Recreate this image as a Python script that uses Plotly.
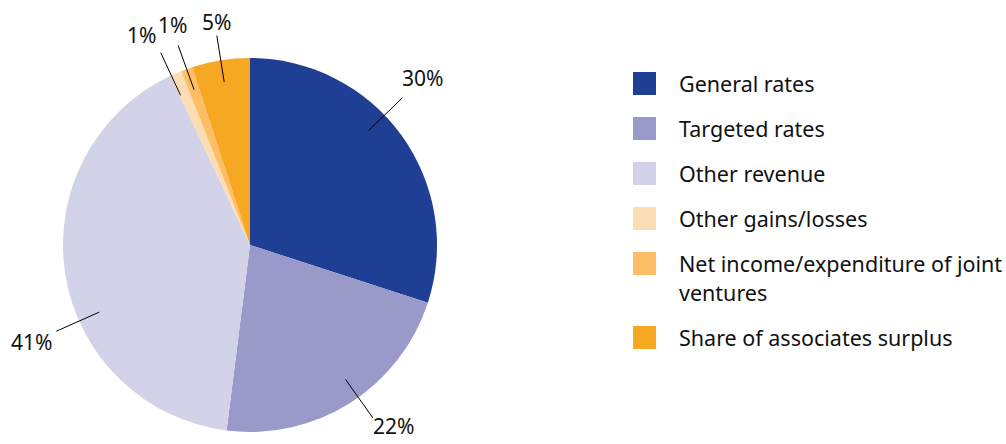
import math
import plotly.graph_objects as go

# ---- data ----
categories = ["General rates", "Targeted rates", "Other revenue",
              "Other gains/losses", "Net income/expenditure of joint ventures",
              "Share of associates surplus"]
legend_text = ["General rates", "Targeted rates", "Other revenue",
               "Other gains/losses", "Net income/expenditure of joint<br>ventures",
               "Share of associates surplus"]
values = [30, 22, 41, 1, 1, 5]
pct_labels = ["30%", "22%", "41%", "1%", "1%", "5%"]
colors = ["#1F3F94", "#9A9ACA", "#D2D2E8", "#FDDDB5", "#FDBE65", "#F7A823"]
line_angle_shift = [-8, -3, -15, -1.5, 0, 0]   # degrees, leader-line placement tweak
text_angle_shift = [-8, -6, -15, -4, 0.5, 0.5]  # degrees, text placement tweak
label_text_r = [240, 231, 239, 236, 233, 225]

W, H = 1006, 444
cx, cy, R = 250, 245, 187
FONT = "Noto Sans"

fig = go.Figure()
fig.add_trace(go.Pie(
    labels=categories, values=values, sort=False, direction="clockwise",
    rotation=0, marker=dict(colors=colors, line=dict(width=0)),
    textinfo="none", hoverinfo="skip", showlegend=False,
    domain=dict(x=[(cx - R) / W, (cx + R) / W], y=[(H - cy - R) / H, (H - cy + R) / H]),
))

def px2paper(x, y):
    return x / W, 1 - y / H

shapes, annotations = [], []
total = sum(values)
cum = 0
for i, v in enumerate(values):
    mid = (cum + v / 2) / total * 360
    cum += v
    a = math.radians(mid + line_angle_shift[i])
    dx, dy = math.sin(a), -math.cos(a)
    x0, y0 = px2paper(cx + dx * 165, cy + dy * 165)
    x1, y1 = px2paper(cx + dx * 212, cy + dy * 212)
    shapes.append(dict(type="line", xref="paper", yref="paper", x0=x0, y0=y0, x1=x1, y1=y1,
                       line=dict(color="black", width=1)))
    b = math.radians(mid + text_angle_shift[i])
    tx, ty = px2paper(cx + math.sin(b) * label_text_r[i], cy - math.cos(b) * label_text_r[i])
    annotations.append(dict(x=tx, y=ty, xref="paper", yref="paper", text=pct_labels[i],
                            showarrow=False, xanchor="center", yanchor="middle",
                            font=dict(family=FONT, size=21, color="#111111")))

# ---- legend (manual) ----
ly = 83.5
for i, lab in enumerate(legend_text):
    x0, y0 = px2paper(633, ly - 11.5)
    x1, y1 = px2paper(656, ly + 11.5)
    shapes.append(dict(type="rect", xref="paper", yref="paper", x0=x0, y0=y0, x1=x1, y1=y1,
                       fillcolor=colors[i], line=dict(width=0)))
    lines = lab.split("<br>")
    for j, t in enumerate(lines):
        tx, ty = px2paper(677, ly + j * 29)
        annotations.append(dict(x=tx, y=ty, xref="paper", yref="paper", text=t,
                                showarrow=False, xanchor="left", yanchor="middle",
                                font=dict(family=FONT, size=21.5, color="#111111")))
    ly += 45 + 29 * (len(lines) - 1)

fig.update_layout(
    width=W, height=H, margin=dict(l=0, r=0, t=0, b=0),
    paper_bgcolor="white", plot_bgcolor="white",
    shapes=shapes, annotations=annotations, showlegend=False,
)
fig.write_html("out.html", config={"displayModeBar": False},
               post_script="document.body.style.margin='0px';document.body.style.overflow='hidden';")
